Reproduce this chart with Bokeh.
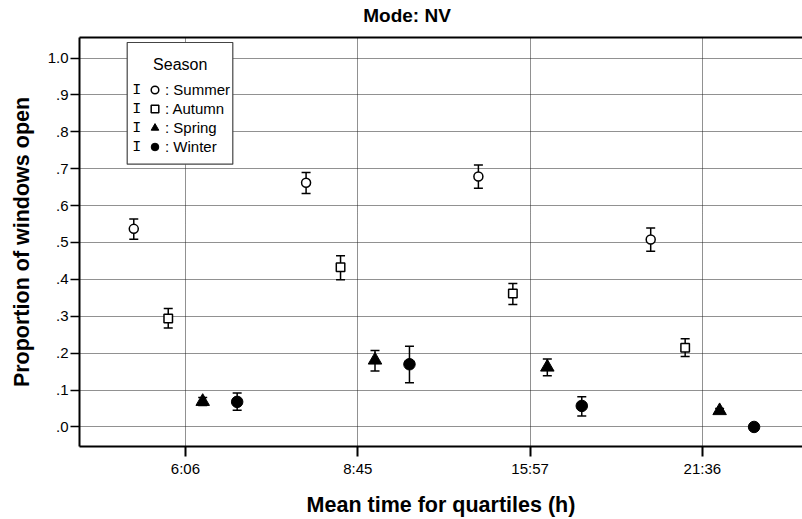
import numpy as np
from bokeh.plotting import figure
from bokeh.models import (ColumnDataSource, Whisker, TeeHead, FixedTicker, LinearAxis,
                          Legend, LegendItem, Label, BoxAnnotation, Range1d, Title)
from bokeh.embed import file_html
from bokeh.resources import INLINE

# ---------------- data ----------------
quartiles = ["6:06", "8:45", "15:57", "21:36"]
seasons = ["Summer", "Autumn", "Spring", "Winter"]

summer_mean = [0.537, 0.662, 0.679, 0.508]
summer_lo = [0.509, 0.633, 0.647, 0.476]
summer_hi = [0.564, 0.690, 0.710, 0.539]

autumn_mean = [0.294, 0.433, 0.362, 0.215]
autumn_lo = [0.268, 0.399, 0.332, 0.191]
autumn_hi = [0.321, 0.464, 0.389, 0.239]

spring_mean = [0.069, 0.181, 0.162, 0.044]
spring_lo = [0.058, 0.152, 0.139, 0.038]
spring_hi = [0.080, 0.207, 0.184, 0.050]

winter_mean = [0.068, 0.170, 0.057, 0.000]
winter_lo = [0.045, 0.120, 0.030, 0.000]
winter_hi = [0.092, 0.219, 0.082, 0.000]

y_ticks = [0, 0.1, 0.2, 0.3, 0.4, 0.5, 0.6, 0.7, 0.8, 0.9, 1]
y_tick_labels = [".0", ".1", ".2", ".3", ".4", ".5", ".6", ".7", ".8", ".9", "1.0"]

title_text = "Mode: NV"
x_title = "Mean time for quartiles (h)"
y_title = "Proportion of windows open"
legend_title = "Season"

# ---------------- layout / style ----------------
FONT = "Liberation Sans"
dodge = [-0.3, -0.1, 0.1, 0.3]
styles = [
    dict(marker="circle", size=9, fill_color="white", line_color="black", line_width=1.5),
    dict(marker="square", size=8.5, fill_color="white", line_color="black", line_width=1.5),
    dict(marker="triangle", size=13.5, fill_color="black", line_color="black", line_width=1),
    dict(marker="circle", size=11.5, fill_color="black", line_color="black", line_width=1),
]
series = [
    (summer_mean, summer_lo, summer_hi),
    (autumn_mean, autumn_lo, autumn_hi),
    (spring_mean, spring_lo, spring_hi),
    (winter_mean, winter_lo, winter_hi),
]

p = figure(width=802, height=519, output_backend="svg", toolbar_location=None, title=None,
           x_range=Range1d(-0.615, 3.581), y_range=Range1d(-0.053, 1.0557),
           min_border_left=79, min_border_right=0, min_border_top=37, min_border_bottom=70)
p.outline_line_color = None
p.background_fill_color = "white"
p.border_fill_color = "white"

xticker = FixedTicker(ticks=list(range(len(quartiles))))
yticker = FixedTicker(ticks=y_ticks)

xa = p.xaxis[0]
xa.ticker = xticker
xa.major_label_overrides = {i: q for i, q in enumerate(quartiles)}
xa.axis_label = x_title
ya = p.yaxis[0]
ya.ticker = yticker
ya.major_label_overrides = dict(zip(y_ticks, y_tick_labels))
ya.axis_label = y_title

for ax in (xa, ya):
    ax.axis_line_color = "black"
    ax.axis_line_width = 2
    ax.major_tick_line_color = "black"
    ax.major_tick_in = 0
    ax.minor_tick_line_color = None
    ax.major_label_text_font = FONT
    ax.major_label_text_font_size = "15px"
    ax.major_label_text_color = "black"
    ax.axis_label_text_font = FONT
    ax.axis_label_text_font_size = "21.5px"
    ax.axis_label_text_font_style = "bold"
    ax.axis_label_text_color = "black"

xa.major_tick_out = 10
xa.major_tick_line_width = 2
xa.major_label_standoff = 3
xa.axis_label_standoff = 13
ya.major_tick_out = 9
ya.major_tick_line_width = 1.5
ya.major_label_standoff = 2
ya.axis_label_standoff = 11

# top frame line (axis with no ticks), then a blank spacer, then the chart title
top_axis = LinearAxis(ticker=FixedTicker(ticks=[]), axis_line_color="black", axis_line_width=2,
                      major_tick_line_color=None, minor_tick_line_color=None,
                      major_tick_out=0, minor_tick_out=0, major_tick_in=0, minor_tick_in=0,
                      major_label_standoff=0, major_label_text_font_size="0px")
p.add_layout(top_axis, "above")
p.add_layout(Title(text=" ", text_font=FONT, text_font_size="9px", standoff=0), "above")
p.add_layout(Title(text=title_text, align="left", offset=283.7, standoff=0, vertical_align="bottom",
                   text_font=FONT, text_font_size="19px", text_font_style="bold", text_color="black"),
             "above")

p.xgrid.ticker = xticker
p.ygrid.ticker = yticker
for g in (p.xgrid, p.ygrid):
    g.grid_line_color = "#222222"
    g.grid_line_dash = "1 1"
    g.grid_line_width = 1

renderers = []
for k, (mean, lo, hi) in enumerate(series):
    src = ColumnDataSource(dict(x=np.arange(len(quartiles)) + dodge[k], y=mean, lo=lo, hi=hi))
    w = Whisker(source=src, base="x", upper="hi", lower="lo", dimension="height",
                line_color="black", line_width=1.5, level="underlay",
                upper_head=TeeHead(size=9, line_color="black", line_width=1.5),
                lower_head=TeeHead(size=9, line_color="black", line_width=1.5))
    p.add_layout(w)
    r = p.scatter("x", "y", source=src, **styles[k])
    renderers.append(r)

# legend box (frame-relative screen units)
box = BoxAnnotation(left=47.7, right=153.3, top=404, bottom=282.3,
                    left_units="screen", right_units="screen", top_units="screen", bottom_units="screen",
                    fill_color="white", fill_alpha=1, line_color="#444444", line_alpha=1, line_width=1.2)
p.add_layout(box)

legend = Legend(items=[LegendItem(label=": " + s, renderers=[r]) for s, r in zip(seasons, renderers)],
                location=(66, 290), orientation="vertical",
                glyph_width=19, glyph_height=19, label_height=19, label_standoff=1,
                spacing=0, padding=0, margin=0,
                border_line_color=None, background_fill_alpha=0,
                label_text_font=FONT, label_text_font_size="15px", label_text_color="black")
p.add_layout(legend)

p.add_layout(Label(x=100.7, y=382, x_units="screen", y_units="screen", text=legend_title,
                   text_align="center", text_baseline="alphabetic", text_font=FONT,
                   text_font_size="16px", text_color="black"))
for fy in [356.3, 337.0, 317.9, 298.8]:
    p.add_layout(Label(x=57.3, y=fy, x_units="screen", y_units="screen", text="I",
                       text_align="center", text_baseline="middle", text_font="Liberation Mono",
                       text_font_size="15px", text_color="black"))

open("out.html", "w").write(file_html(p, INLINE))
